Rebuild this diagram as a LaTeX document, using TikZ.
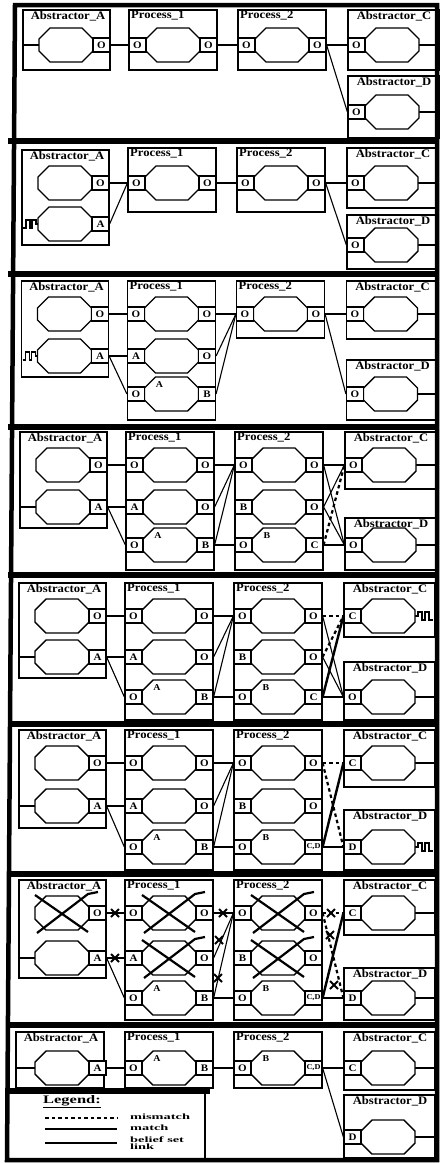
\documentclass[tikz,border=0pt]{standalone}
\usepackage{fontspec}
\usepackage{graphicx}
\setmainfont{Liberation Serif}[FakeStretch=1.1]
\newcommand\Abox[2]{\draw[modb] (19,#1) rectangle (106,#2); \node[ttl, anchor=north] at (64,#1) {Abstractor\_A};}
\newcommand\Pbox[5]{\draw[modb] (#1,#2) rectangle (#3,#4); \node[ttl, anchor=north west] at (#1+1,#2) {#5};}
\newcommand\Cbox[3]{\draw[modb] (344,#1) rectangle (435,#2); \node[ttl, anchor=north] at (390,#1) {#3};}
\newcommand\Arow[3]{\pic at (62,#1) {octo}; \node[port] (#2) at (97.5,#1) {#3};}
\newcommand\Ain[1]{\draw[link] (19,#1) -- (36,#1);}
\newcommand\Awave[1]{\draw[link] (20,#1+4) -- (23,#1+4) -- (23,#1-4) -- (27,#1-4) -- (27,#1+4) -- (29,#1+4) -- (29,#1-4) -- (33,#1-4) -- (33,#1) -- (36,#1);}
\newcommand\Prow[6]{\pic at (#1,#2) {octo}; \node[port] (#3) at (#1-35.5,#2) {#4}; \node[port] (#5) at (#1+35.5,#2) {#6};}
\newcommand\Crow[3]{\pic at (388,#1) {octo}; \node[port] (#2) at (352.5,#1) {#3};}
\newcommand\Cout[1]{\draw[link] (414,#1) -- (435,#1);}
\newcommand\Cwave[1]{\draw[link] (414,#1) -- (418,#1) -- (418,#1-4) -- (422,#1-4) -- (422,#1+4) -- (425,#1+4) -- (425,#1-4) -- (429,#1-4) -- (429,#1+4) -- (433,#1+4);}
\newcommand\inlab[3]{\node[lab] at (#1-12,#2-9) {#3};}
\newcommand\bigX[2]{\draw[xmk] (#1-27,#2-18) .. controls (#1-4,#2-2) .. (#1+26,#2+19); \draw[xmk] (#1-25,#2+20) .. controls (#1,#2) .. (#1+26,#2-19) -- (#1+36,#2-21);}
\newcommand\smX[2]{\draw[line width=1.8pt] (#1-4,#2-4) -- (#1+4,#2+4) (#1-4,#2+4) -- (#1+4,#2-4);}
\begin{document}
\begin{tikzpicture}[x=1pt,y=-1pt,
  modb/.style={draw, line width=1.1pt},
  ttl/.style={font=\bfseries\fontsize{11.5}{12}\selectfont, inner sep=1pt},
  port/.style={draw, line width=1.2pt, fill=white, minimum width=17pt, minimum height=14pt, inner sep=0pt, font=\bfseries\fontsize{10}{10}\selectfont},
  lab/.style={font=\bfseries\fontsize{9}{9}\selectfont, inner sep=0pt},
  octo/.pic={\draw[line width=1.4pt, fill=white] (-16,-17) -- (16,-17) -- (27,-6) -- (27,6) -- (16,17) -- (-16,17) -- (-27,6) -- (-27,-6) -- cycle;},
  link/.style={line width=1.1pt},
  match/.style={line width=2.4pt},
  mism/.style={line width=2.2pt, dash pattern=on 3.5pt off 3pt},
  xmk/.style={line width=2.2pt},
  sep/.style={line width=5.5pt},
  lgd/.style={font=\bfseries\fontsize{9}{7}\selectfont, inner sep=0pt, anchor=west, align=left},
]
\useasboundingbox (0,0) rectangle (440,1163);
\fill[white] (0,0) rectangle (440,1163);
% frame and separators
\draw[line width=4.5pt] (15,5) -- (437,5) -- (437,1160) -- (7,1160) -- cycle;
\foreach \s in {141,274,427,575,724,874,1025} \draw[sep] (8,\s) -- (439,\s);
\draw[sep] (8,1091) -- (210,1091);
\draw[modb] (205,1091) -- (205,1160);

% ---------------- Panel 1 ----------------
\begin{scope}[xshift=4pt]
\Abox{10}{70}
\Ain{45}\Arow{45}{a11}{O}
\Pbox{125}{10}{213}{70}{Process\_1}
\Prow{169}{45}{p1l1}{O}{p1r1}{O}
\Pbox{234}{10}{322}{70}{Process\_2}
\Prow{278}{45}{q1l1}{O}{q1r1}{O}
\Cbox{10}{70}{Abstractor\_C}
\Cout{45}\Crow{45}{c1}{O}
\Cbox{76}{138}{Abstractor\_D}
\Cout{112}\Crow{112}{d1}{O}
\draw[link] (a11.east) -- (p1l1.west);
\draw[link] (p1r1.east) -- (q1l1.west);
\draw[link] (q1r1.east) -- (c1.west);
\draw[link] (q1r1.east) -- (d1.west);
\end{scope}

% ---------------- Panel 2 ----------------
\begin{scope}[xshift=3pt]
\Abox{150}{245}
\Arow{183}{a21}{O}
\Awave{224}\Arow{224}{a22}{A}
\Pbox{125}{148}{213}{212}{Process\_1}
\Prow{169}{183}{p2l1}{O}{p2r1}{O}
\Pbox{234}{148}{322}{212}{Process\_2}
\Prow{278}{183}{q2l1}{O}{q2r1}{O}
\Cbox{148}{208}{Abstractor\_C}
\Cout{183}\Crow{183}{c2}{O}
\Cbox{215}{269}{Abstractor\_D}
\Cout{245}\Crow{245}{d2}{O}
\draw[link] (a21.east) -- (p2l1.west);
\draw[link] (a22.east) -- (p2l1.west);
\draw[link] (p2r1.east) -- (q2l1.west);
\draw[link] (q2r1.east) -- (c2.west);
\draw[link] (q2r1.east) -- (d2.west);
\end{scope}

% ---------------- Panel 3 ----------------
\begin{scope}[xshift=2.5pt]
\Abox{281}{377}
\Arow{314}{a31}{O}
\Awave{356}\Arow{356}{a32}{A}
\Pbox{125}{281}{213}{420}{Process\_1}
\Prow{169}{314}{p3l1}{O}{p3r1}{O}
\Prow{169}{356}{p3l2}{A}{p3r2}{O}
\Prow{169}{394}{p3l3}{O}{p3r3}{B}\inlab{169}{394}{A}
\Pbox{234}{281}{322}{338}{Process\_2}
\Prow{278}{314}{q3l1}{O}{q3r1}{O}
\Cbox{281}{339}{Abstractor\_C}
\Cout{314}\Crow{314}{c3}{O}
\Cbox{360}{420}{Abstractor\_D}
\Cout{394}\Crow{394}{d3}{O}
\draw[link] (a31.east) -- (p3l1.west);
\draw[link] (a32.east) -- (p3l2.west);
\draw[link] (a32.east) -- (p3l3.west);
\draw[link] (p3r1.east) -- (q3l1.west);
\draw[link] (p3r2.east) -- (q3l1.west);
\draw[link] (p3r3.east) -- (q3l1.west);
\draw[link] (q3r1.east) -- (c3.west);
\draw[link] (q3r1.east) -- (d3.west);
\end{scope}

% ---------------- Panel 4 ----------------
\begin{scope}[xshift=1pt]
\Abox{432}{528}
\Arow{465}{a41}{O}
\Ain{507}\Arow{507}{a42}{A}
\Pbox{125}{432}{213}{570}{Process\_1}
\Prow{169}{465}{p4l1}{O}{p4r1}{O}
\Prow{169}{507}{p4l2}{A}{p4r2}{O}
\Prow{169}{545}{p4l3}{O}{p4r3}{B}\inlab{169}{545}{A}
\Pbox{234}{432}{322}{570}{Process\_2}
\Prow{278}{465}{q4l1}{O}{q4r1}{O}
\Prow{278}{507}{q4l2}{B}{q4r2}{O}
\Prow{278}{545}{q4l3}{O}{q4r3}{C}\inlab{278}{545}{B}
\Cbox{432}{489}{Abstractor\_C}
\Cout{465}\Crow{465}{c4}{O}
\Cbox{518}{570}{Abstractor\_D}
\Cout{545}\Crow{545}{d4}{O}
\draw[link] (a41.east) -- (p4l1.west);
\draw[link] (a42.east) -- (p4l2.west);
\draw[link] (a42.east) -- (p4l3.west);
\draw[link] (p4r1.east) -- (q4l1.west);
\draw[link] (p4r2.east) -- (q4l1.west);
\draw[link] (p4r3.east) -- (q4l1.west);
\draw[link] (p4r3.east) -- (q4l3.west);
\draw[match] (q4r1.east) -- (c4.west);
\draw[link] (q4r1.east) -- (d4.west);
\draw[link] (q4r2.east) -- (c4.west);
\draw[link] (q4r2.east) -- (d4.west);
\draw[link] (q4r3.east) -- (d4.west);
\draw[mism] (q4r3.east) -- (c4.west);
\end{scope}

% ---------------- Panel 5 ----------------
\Abox{583}{678}
\Arow{616}{a51}{O}
\Ain{657}\Arow{657}{a52}{A}
\Pbox{125}{583}{213}{720}{Process\_1}
\Prow{169}{616}{p5l1}{O}{p5r1}{O}
\Prow{169}{657}{p5l2}{A}{p5r2}{O}
\Prow{169}{697}{p5l3}{O}{p5r3}{B}\inlab{169}{697}{A}
\Pbox{234}{583}{322}{720}{Process\_2}
\Prow{278}{616}{q5l1}{O}{q5r1}{O}
\Prow{278}{657}{q5l2}{B}{q5r2}{O}
\Prow{278}{697}{q5l3}{O}{q5r3}{C}\inlab{278}{697}{B}
\Cbox{583}{637}{Abstractor\_C}
\Cwave{616}\Crow{616}{c5}{C}
\Cbox{662}{720}{Abstractor\_D}
\Cout{697}\Crow{697}{d5}{O}
\draw[link] (a51.east) -- (p5l1.west);
\draw[link] (a52.east) -- (p5l2.west);
\draw[link] (a52.east) -- (p5l3.west);
\draw[link] (p5r1.east) -- (q5l1.west);
\draw[link] (p5r2.east) -- (q5l1.west);
\draw[link] (p5r3.east) -- (q5l1.west);
\draw[link] (p5r3.east) -- (q5l3.west);
\draw[mism] (q5r1.east) -- (c5.west);
\draw[link] (q5r1.east) -- (d5.west);
\draw[link] (q5r2.east) -- (d5.west);
\draw[mism] (q5r2.east) -- (c5.west);
\draw[match] (q5r3.east) -- (c5.west);
\draw[link] (q5r3.east) -- (d5.west);

% ---------------- Panel 6 ----------------
\Abox{730}{828}
\Arow{763}{a61}{O}
\Ain{806}\Arow{806}{a62}{A}
\Pbox{125}{730}{213}{870}{Process\_1}
\Prow{169}{763}{p6l1}{O}{p6r1}{O}
\Prow{169}{806}{p6l2}{A}{p6r2}{O}
\Prow{169}{847}{p6l3}{O}{p6r3}{B}\inlab{169}{847}{A}
\Pbox{234}{730}{322}{870}{Process\_2}
\Prow{278}{763}{q6l1}{O}{q6r1}{O}
\Prow{278}{806}{q6l2}{B}{q6r2}{O}
\Prow{278}{847}{q6l3}{O}{q6r3}{\fontsize{7.5}{7}\selectfont C,D}\inlab{278}{847}{B}
\Cbox{730}{787}{Abstractor\_C}
\Cout{763}\Crow{763}{c6}{C}
\Cbox{810}{870}{Abstractor\_D}
\Cwave{847}\Crow{847}{d6}{D}
\draw[link] (a61.east) -- (p6l1.west);
\draw[link] (a62.east) -- (p6l2.west);
\draw[link] (a62.east) -- (p6l3.west);
\draw[link] (p6r1.east) -- (q6l1.west);
\draw[link] (p6r2.east) -- (q6l1.west);
\draw[link] (p6r3.east) -- (q6l1.west);
\draw[link] (p6r3.east) -- (q6l3.west);
\draw[mism] (q6r1.east) -- (c6.west);
\draw[mism] (q6r1.east) -- (d6.west);
\draw[match] (q6r3.east) -- (c6.west);
\draw[match] (q6r3.east) -- (d6.west);

% ---------------- Panel 7 ----------------
\Abox{880}{978}
\Arow{913}{a71}{O}
\Ain{958}\Arow{958}{a72}{A}
\Pbox{125}{880}{213}{1020}{Process\_1}
\Prow{169}{913}{p7l1}{O}{p7r1}{O}
\Prow{169}{958}{p7l2}{A}{p7r2}{O}
\Prow{169}{998}{p7l3}{O}{p7r3}{B}\inlab{169}{998}{A}
\Pbox{234}{880}{322}{1020}{Process\_2}
\Prow{278}{913}{q7l1}{O}{q7r1}{O}
\Prow{278}{958}{q7l2}{B}{q7r2}{O}
\Prow{278}{998}{q7l3}{O}{q7r3}{\fontsize{7.5}{7}\selectfont C,D}\inlab{278}{998}{B}
\Cbox{880}{935}{Abstractor\_C}
\Cout{913}\Crow{913}{c7}{C}
\Cbox{968}{1020}{Abstractor\_D}
\Cout{998}\Crow{998}{d7}{D}
\bigX{62}{913}\bigX{169}{913}\bigX{169}{958}\bigX{278}{913}\bigX{278}{958}
\draw[link] (a71.east) -- (p7l1.west);
\draw[link] (a72.east) -- (p7l2.west);
\draw[link] (a72.east) -- (p7l3.west);
\draw[link] (p7r1.east) -- (q7l1.west);
\draw[link] (p7r2.east) -- (q7l1.west);
\draw[link] (p7r3.east) -- (q7l1.west);
\draw[link] (p7r3.east) -- (q7l3.west);
\draw[mism] (q7r1.east) -- (c7.west);
\draw[mism] (q7r1.east) -- (d7.west);
\draw[match] (q7r3.east) -- (c7.west);
\draw[match] (q7r3.east) -- (d7.west);
\smX{115}{913}\smX{115}{958}\smX{223}{913}\smX{219}{940}\smX{218}{978}
\smX{331}{913}\smX{330}{935}\smX{334}{985}

% ---------------- Panel 8 ----------------
\draw[modb] (16,1032) rectangle (104,1088); \node[ttl, anchor=north] at (61,1032) {Abstractor\_A};
\draw[link] (16,1068) -- (36,1068);
\Arow{1068}{a81}{A}
\Pbox{125}{1032}{213}{1088}{Process\_1}
\Prow{169}{1068}{p8l1}{O}{p8r1}{B}\inlab{169}{1068}{A}
\Pbox{234}{1032}{322}{1088}{Process\_2}
\Prow{278}{1068}{q8l1}{O}{q8r1}{\fontsize{7.5}{7}\selectfont C,D}\inlab{278}{1068}{B}
\Cbox{1032}{1090}{Abstractor\_C}
\Cout{1068}\Crow{1068}{c8}{C}
\Cbox{1095}{1158}{Abstractor\_D}
\Cout{1137}\Crow{1137}{d8}{D}
\draw[link] (a81.east) -- (p8l1.west);
\draw[link] (p8r1.east) -- (q8l1.west);
\draw[link] (q8r1.east) -- (c8.west);
\draw[link] (q8r1.east) -- (d8.west);

% legend
\node[font=\bfseries\fontsize{11.5}{12}\selectfont, inner sep=0pt] (lg) at (72,1102) {\scalebox{1.3}[1]{\underline{Legend:}}};
\coordinate (l1a) at (45,1118); \coordinate (l1b) at (117,1118);
\coordinate (l2a) at (45,1129); \coordinate (l2b) at (117,1129);
\coordinate (l3a) at (45,1143); \coordinate (l3b) at (117,1143);
\draw[mism] (l1a) -- (l1b);
\draw[match] (l2a) -- (l2b);
\draw[link] (l3a) -- (l3b);
\node[lgd] (t1) at (130,1117) {\scalebox{1.45}[0.9]{mismatch}};
\node[lgd] (t2) at (130,1128) {\scalebox{1.45}[0.9]{match}};
\node[lgd] (t3) at (130,1140) {\scalebox{1.45}[0.9]{belief set}};
\node[lgd] (t4) at (130,1147) {\scalebox{1.45}[0.9]{link}};
\end{tikzpicture}
\end{document}
